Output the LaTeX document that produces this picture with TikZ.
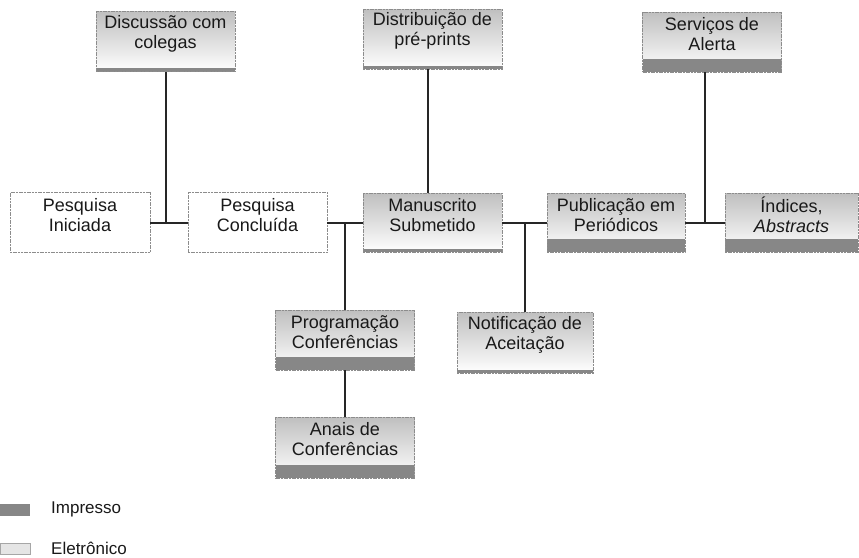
\documentclass[tikz,border=0pt]{standalone}
\usepackage{fontspec}
\setmainfont{Liberation Sans}
\begin{document}
\begin{tikzpicture}[x=1pt,y=-1pt,
  conn/.style={line width=2pt, draw=black!85},
  basebox/.style={draw=black!45, line width=0.7pt, dash pattern=on 2pt off 0.7pt,
    minimum width=139pt, minimum height=60pt, inner sep=0pt},
  stripeh/.style={path picture={\fill[black!47] (path picture bounding box.south west) rectangle ([yshift=#1]path picture bounding box.south east);}},
  gradbox/.style={basebox, top color=black!25, middle color=white, bottom color=white},
  elbox/.style={gradbox, stripeh=3.5pt},
  prbox/.style={gradbox, stripeh=13pt},
  plainbox/.style={basebox, fill=white},
  txt/.style={align=center, inner sep=0pt, text=black!90, font=\fontsize{18}{20}\selectfont},
  legtxt/.style={anchor=west, inner sep=0pt, text=black!90, font=\fontsize{17}{20}\selectfont}
]
\useasboundingbox (0,0) rectangle (859,557);

% boxes
\node[elbox] (disc) at (165.5,41.5) {};
\node[txt] (disct) at ([yshift=-22.5pt]disc.north) {Discussão com\\colegas};
\node[elbox] (dist) at (432.5,39) {};
\node[txt] (distt) at ([yshift=-22.5pt]dist.north) {Distribuição de\\pré-prints};
\node[prbox] (serv) at (712,42) {};
\node[txt] (servt) at ([yshift=-22.5pt]serv.north) {Serviços de\\Alerta};

\node[plainbox, minimum width=140pt] (ini) at (80,222.5) {};
\node[txt] (init) at ([yshift=-23pt]ini.north) {Pesquisa\\Iniciada};
\node[plainbox] (conc) at (257.5,222.5) {};
\node[txt] (conct) at ([yshift=-23pt]conc.north) {Pesquisa\\Concluída};
\node[elbox, minimum height=59pt] (man) at (432.5,222.5) {};
\node[txt] (mant) at ([yshift=-22.5pt]man.north) {Manuscrito\\Submetido};
\node[prbox, minimum width=138pt, minimum height=59pt] (pub) at (616,222.5) {};
\node[txt] (pubt) at ([yshift=-22.5pt]pub.north) {Publicação em\\Periódicos};
\node[prbox, minimum width=133pt, minimum height=59pt] (ind) at (791.5,222.5) {};
\node[txt] (indt) at ([yshift=-22.5pt]ind.north) {Índices,\\\itshape Abstracts};

\node[prbox] (prog) at (345,340) {};
\node[txt] (progt) at ([yshift=-22.5pt]prog.north) {Programação\\Conferências};
\node[elbox, minimum width=136pt, minimum height=61pt] (notif) at (525,342.5) {};
\node[txt] (notift) at ([yshift=-23pt]notif.north) {Notificação de\\Aceitação};
\node[prbox, minimum height=61pt] (anais) at (345,447.5) {};
\node[txt] (anaist) at ([yshift=-22.5pt]anais.north) {Anais de\\Conferências};

% junction points
\coordinate (j1) at (disc.south |- ini.east);
\coordinate (j2) at (prog.north |- man.west);
\coordinate (j3) at (notif.north |- pub.west);
\coordinate (j4) at (705,222.5);

% connectors
\draw[conn] (ini.east) -- (conc.west);
\draw[conn] (disc.south) -- (j1);
\draw[conn] (conc.east) -- (man.west);
\draw[conn] (j2) -- (prog.north);
\draw[conn] (prog.south) -- (anais.north);
\draw[conn] ([xshift=-4.5pt]dist.south) -- ([xshift=-4.5pt]man.north);
\draw[conn] (man.east) -- (pub.west);
\draw[conn] (j3) -- (notif.north);
\draw[conn] (pub.east) -- (ind.west);
\draw[conn] (j4) -- (j4 |- serv.south);

% legend
\node[draw=none, fill=black!47, minimum width=30pt, minimum height=12pt, inner sep=0pt, anchor=west] (legp) at (0,509.5) {};
\node[legtxt] (legpt) at (51,509.5) {Impresso};
\node[draw=black!35, line width=0.6pt, fill=black!10, minimum width=30pt, minimum height=11pt, inner sep=0pt, anchor=west] (lege) at (0,548.5) {};
\node[legtxt] (leget) at (51,548.5) {Eletrônico};
\end{tikzpicture}
\end{document}
